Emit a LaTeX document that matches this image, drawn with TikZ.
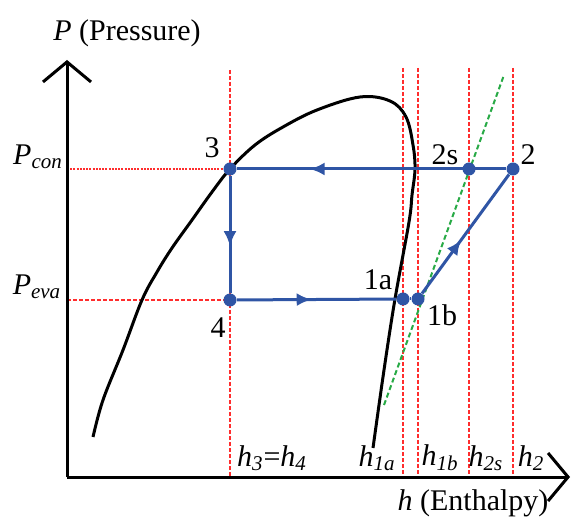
\documentclass[tikz,border=0pt]{standalone}
\usepackage{fontspec}
\setmainfont{Liberation Serif}
\usetikzlibrary{arrows.meta,decorations.markings,backgrounds}
\definecolor{cyc}{RGB}{47,85,165}
\definecolor{gl}{RGB}{255,45,45}
\definecolor{gd}{RGB}{40,170,70}
\tikzset{
  axisline/.style={line width=1.5pt, -{Straight Barb[length=10pt,width=24pt,line width=1.5pt]}},
  cyclepath/.style={cyc, line width=1.5pt},
  midarrow/.style={postaction=decorate, decoration={markings, mark=at position #1 with {\arrow{Latex[length=7.5pt,width=6.5pt]}}}},
  dotpt/.style={circle, fill=cyc, inner sep=0pt, minimum size=6.5pt},
  guide/.style={gl, line width=1pt, dash pattern=on 2pt off 1pt},
  guidedot/.style={gl, line width=1pt, dash pattern=on 1pt off 0.6pt},
  greenline/.style={gd, line width=1pt, dash pattern=on 2.5pt off 1.5pt},
  sat/.style={black, line width=1.5pt},
  lbl/.style={font=\fontsize{15}{18}\selectfont, inner sep=0pt},
}
\newcommand\sbs[1]{\textsubscript{#1}}
\begin{document}
\begin{tikzpicture}[x=0.5pt,y=-0.5pt]
\useasboundingbox (0,0) rectangle (571,522);
% axes
\coordinate (O) at (67,477);
\coordinate (Ytip) at (67,60);
\coordinate (Xtip) at (570,477);
% cycle points
\node[dotpt] (p3) at (230,169) {};
\node[dotpt] (p4) at (230,300) {};
\node[dotpt] (p1a) at (403,299) {};
\node[dotpt] (p1b) at (418,299) {};
\node[dotpt] (p2s) at (469,169) {};
\node[dotpt] (p2) at (513,169) {};
% guide line ends
\coordinate (t3) at (230,70);
\coordinate (b3) at (230,477);
\coordinate (t1a) at (403,68);
\coordinate (b1a) at (403,477);
\coordinate (t1b) at (418,68);
\coordinate (b1b) at (418,477);
\coordinate (t2s) at (469,68);
\coordinate (b2s) at (469,477);
\coordinate (t2) at (513,68);
\coordinate (b2) at (513,477);
\coordinate (ycon) at (67,169);
\coordinate (yeva) at (67,300);
\coordinate (g1) at (384,405);
\coordinate (g2) at (504,75);
\begin{scope}[on background layer]
% guides
\draw[guide] (t3) -- (b3);
\draw[guide] (t1a) -- (b1a);
\draw[guide] (t1b) -- (b1b);
\draw[guide] (t2s) -- (b2s);
\draw[guide] (t2) -- (b2);
\draw[guidedot] (ycon) -- (p3.center);
\draw[guide] (yeva) -- (p4.center);
\draw[greenline] (g1) -- (g2);
% saturation dome
\draw[sat] plot[smooth, tension=0.6] coordinates {(93,437) (103,400) (123,350) (142,300) (157,272) (172,248) (192,220) (212,192) (230,169) (255,145) (283,127) (317,110) (360,97) (390,101) (406,117) (413,145) (415,169) (412,195) (409,222) (395,299) (384,370) (373,448)};
% axes
\draw[axisline] (O) -- (Ytip);
\draw[axisline] (O) -- (Xtip);
% cycle
\draw[cyclepath, midarrow=0.6] (p3) -- (p4);
\draw[cyclepath, midarrow=0.47] (p4) -- (p1a);
\draw[cyclepath] (p1a) -- (p1b);
\draw[cyclepath, midarrow=0.45] (p1b) -- (p2);
\draw[cyclepath, midarrow=0.73] (p2) -- (p3);
\end{scope}
% labels
\node[lbl] (ylab) at (127,33) {\textit{P} (Pressure)};
\node[lbl] (xlab) at (473,503) {\textit{h} (Enthalpy)};
\node[lbl] (lcon) at (38,157) {\textit{P\sbs{con}}};
\node[lbl] (leva) at (37,287) {\textit{P\sbs{eva}}};
\node[lbl] (l3) at (212,148) {3};
\node[lbl] (l2s) at (445,155) {2s};
\node[lbl] (l2) at (528,155) {2};
\node[lbl] (l4) at (218,328) {4};
\node[lbl] (l1a) at (378,280) {1a};
\node[lbl] (l1b) at (442,315) {1b};
\node[lbl] (h34) at (272,458) {\textit{h\sbs{3}}=\textit{h\sbs{4}}};
\node[lbl] (h1a) at (377,458) {\textit{h\sbs{1a}}};
\node[lbl] (h1b) at (440,458) {\textit{h\sbs{1b}}};
\node[lbl] (h2sl) at (486,458) {\textit{h\sbs{2s}}};
\node[lbl] (h2l) at (531,458) {\textit{h\sbs{2}}};
\end{tikzpicture}
\end{document}
